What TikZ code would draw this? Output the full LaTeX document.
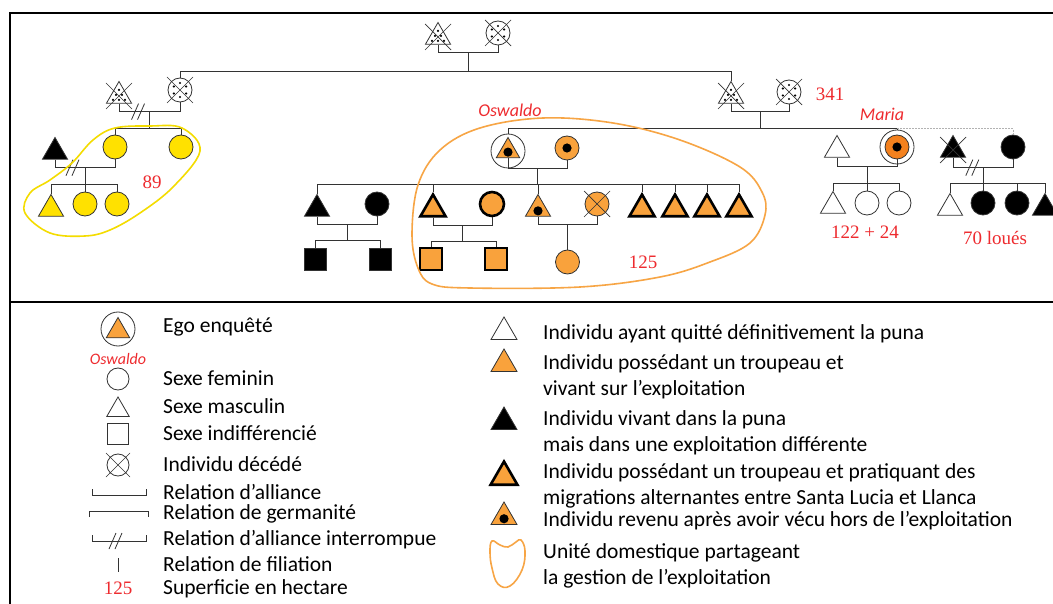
\documentclass[tikz,border=0pt]{standalone}
\usepackage{fontspec}
\setmainfont{Carlito}
\newfontfamily\numfont{Liberation Serif}
\usetikzlibrary{positioning,calc,shapes.geometric}
\definecolor{pdLine}  {HTML}{333333}
\definecolor{pdYellow}{HTML}{FFE100}
\definecolor{pdOrange}{HTML}{F9A23C}
\definecolor{pdMaria} {HTML}{F3811E}
\definecolor{pdRed}   {HTML}{EE2B2F}
\definecolor{pdHullY} {HTML}{F4DC00}
\definecolor{pdHullO} {HTML}{F7A545}
\newcommand\cutmark[1]{%
  \draw[draw=pdLine,line width=0.8pt] ([shift={(-7,8)}]#1) -- ([shift={(0,-8)}]#1)
                                      ([shift={(-1,8)}]#1) -- ([shift={(6,-8)}]#1);}

\begin{document}
\begin{tikzpicture}[x=1pt,y=-1pt,
      rel/.style={draw=pdLine,line width=0.9pt},
      ind/.style={inner sep=0pt,draw=pdLine,line width=0.8pt,fill=white},
      tri/.style={ind,regular polygon,regular polygon sides=3,minimum size=29pt},
      fem/.style={ind,circle,minimum size=24pt},
      sqr/.style={ind,rectangle,minimum size=22pt},
      heavy/.style={draw=black,line width=2.6pt},
      ego/.style={circle,draw=pdLine,line width=0.8pt,minimum size=34pt,inner sep=0pt},
      home/.style={path picture={\fill[black] ([yshift=#1]path picture bounding box.center) circle (4.6pt);}},
      home/.default=0pt,
      grainC/.style={path picture={
          \foreach \a in {30,90,...,330}
            \fill[black] ([shift={(\a:7pt)}]path picture bounding box.center) circle (1.2pt);}},
      grainT/.style={path picture={
          \foreach \p in {{0pt,2.5pt},{-3pt,-2.5pt},{3pt,-2.5pt},{-6pt,-7.5pt},{0pt,-7.5pt},{6pt,-7.5pt}}
            \fill[black] ([shift={(\p)}]path picture bounding box.center) circle (1.2pt);}},
      hectare/.style={text=pdRed,inner sep=0pt,font=\numfont\fontsize{19}{19}\selectfont},
      who/.style={text=pdRed,inner sep=0pt,font=\itshape\fontsize{18}{18}\selectfont},
      keytext/.style={anchor=base west,align=left,inner sep=0pt,
                      font=\fontsize{21.5}{26}\selectfont}]
  \useasboundingbox (0,0) rectangle (1053,604);
  \fill[white] (0,0) rectangle (1053,604);

  % frame and divider
  \draw[line width=1.6pt] (10,620) -- (10,13) -- (1070,13);
  \draw[line width=1.6pt] (10,302) -- (1070,302);

  % generation 1
  \node[tri,grainT] (gA) at (438,37) {};
  \node[fem,grainC] (gB) at (498,33) {};
  \draw[rel] (gA.south) -- ++(0,8) coordinate (gbar) -| (gB.south);
  \draw[rel] ($(gbar)!.5!(gbar -| gB)$) -- ++(0,19) coordinate (gsib);

  % generation 2
  \node[tri,grainT] (lA) at (119,96) {};
  \node[fem,grainC] (lB) at (180,90) {};
  \node[tri,grainT] (rA) at (731,96) {};
  \node[fem,grainC] (rB) at (789,92) {};
  \draw[rel] (lB.north) |- (gsib) -| (rA.north);
  \draw[rel] (lA.south) -- ++(0,8) coordinate (lbar) -| (lB.south);
  \draw[rel] ($(lbar)!.5!(lbar -| lB)$) -- ++(0,17) coordinate (lsib);
  \coordinate (lcut) at ($(lbar)!.32!(lbar -| lB)$);
  \cutmark{lcut}
  \draw[rel] (rA.south) -- ++(0,8) coordinate (rbar) -| (rB.south);
  \draw[rel] ($(rbar)!.5!(rbar -| rB)$) -- ++(0,17) coordinate (rsib);

  % left branch (yellow)
  \node[fem,fill=pdYellow] (yA) at (115,147) {};
  \node[fem,fill=pdYellow] (yB) at (181,147) {};
  \draw[rel] (yA.north) |- (lsib) -| (yB.north);
  \node[tri,fill=black] (bA) at (55,152) {};
  \draw[rel] (bA.south) -- ++(0,8) coordinate (ybar) -| (yA.south);
  \draw[rel] ($(ybar)!.5!(ybar -| yA)$) -- ++(0,17) coordinate (ysib);
  \coordinate (ycut) at ($(ybar)!.3!(ybar -| yA)$);
  \cutmark{ycut}
  \node[tri,fill=pdYellow] (yC) at (51,209) {};
  \node[fem,fill=pdYellow] (yD) at (85,204) {};
  \node[fem,fill=pdYellow] (yE) at (117,204) {};
  \draw[rel] (yC.north) |- (ysib) -| (yE.north);
  \draw[rel] (yD.north) -- (yD.north |- ysib);

  % Oswaldo and Maria
  \node[ego] (egoO) at (508,151) {};
  \node[tri,fill=pdOrange,minimum size=27pt,home=-4.5pt] (egoT) at (508,151) {};
  \node[ego] (mariaO) at (897,147) {};
  \node[fem,fill=pdMaria,home] (mariaI) at (897,147) {};
  \node[fem,fill=black] (fB) at (1013,147) {};
  \draw[rel] (egoO.north) |- (rsib) -| (mariaO.north);
  \draw[draw=gray!60,line width=0.7pt,dash pattern=on 2pt off 1pt] (rsib -| mariaO) -| (fB.north);

  % Oswaldo's household
  \node[fem,fill=pdOrange,home] (eW) at (567,148) {};
  \draw[rel] (eW.south) -- ++(0,8) coordinate (ebar) -| (egoT.south);
  \draw[rel] ($(ebar)!.5!(ebar -| egoT)$) -- ++(0,16) coordinate (esib);

  \node[tri,fill=black] (k1) at (317,209) {};
  \node[fem,fill=black] (k1w) at (377,204) {};
  \node[tri,fill=pdOrange,heavy] (k2) at (433,209) {};
  \node[fem,fill=pdOrange,heavy] (k2w) at (492,204) {};
  \node[tri,fill=pdOrange,home=-5.5pt] (k3) at (538,209) {};
  \node[fem,fill=pdOrange] (k3w) at (597,204) {};
  \foreach \n/\x in {k4/642,k5/675,k6/707,k7/739}
    \node[tri,fill=pdOrange,heavy] (\n) at (\x,209) {};
  \draw[rel] (k1.north) |- (esib) -| (k7.north);
  \foreach \n in {k2,k3,k4,k5,k6}
    \draw[rel] (\n.north) -- (\n.north |- esib);

  \draw[rel] (k1.south) -- ++(0,8) coordinate (b1) -| (k1w.south);
  \draw[rel] ($(b1)!.5!(b1 -| k1w)$) -- ++(0,16) coordinate (s1);
  \node[sqr,fill=black] (q1) at (315,259) {};
  \node[sqr,fill=black] (q2) at (380,259) {};
  \draw[rel] (q1.north) |- (s1) -| (q2.north);

  \draw[rel] (k2.south) -- ++(0,8) coordinate (b2) -| (k2w.south);
  \draw[rel] ($(b2)!.5!(b2 -| k2w)$) -- ++(0,16) coordinate (s2);
  \node[sqr,fill=pdOrange,heavy] (q3) at (431,259) {};
  \node[sqr,fill=pdOrange,heavy] (q4) at (496,259) {};
  \draw[rel] (q3.north) |- (s2) -| (q4.north);

  \draw[rel] (k3.south) -- ++(0,8) coordinate (b3) -| (k3w.south);
  \node[fem,fill=pdOrange] (q5) at (567.5,262) {};
  \draw[rel] ($(b3)!.5!(b3 -| k3w)$) -- (q5.north);

  % Maria's household
  \node[tri] (mH) at (837,150) {};
  \draw[rel] (mH.south) -- ++(0,9) coordinate (mbar) -| (mariaI.south);
  \draw[rel] ($(mbar)!.5!(mbar -| mariaI)$) -- ++(0,17) coordinate (msib);
  \node[tri] (m1) at (833,206) {};
  \node[fem] (m2) at (867,203) {};
  \node[fem] (m3) at (899,203) {};
  \draw[rel] (m1.north) |- (msib) -| (m3.north);
  \draw[rel] (m2.north) -- (m2.north |- msib);

  % right branch
  \node[tri,fill=black] (fA) at (953,150) {};
  \draw[rel] (fA.south) -- ++(0,10) coordinate (fbar) -| (fB.south);
  \draw[rel] ($(fbar)!.5!(fbar -| fB)$) -- ++(0,16) coordinate (fsib);
  \coordinate (fcut) at ($(fbar)!.33!(fbar -| fB)$);
  \cutmark{fcut}
  \node[tri] (f1) at (950,208) {};
  \node[fem,fill=black] (f2) at (983,203) {};
  \node[fem,fill=black] (f3) at (1017,203) {};
  \node[tri,fill=black] (f4) at (1045,208) {};
  \draw[rel] (f1.north) |- (fsib) -| (f4.north);
  \foreach \n in {f2,f3}
    \draw[rel] (\n.north) -- (\n.north |- fsib);

  % deceased
  \foreach \n in {gA,gB,lA,lB,rA,rB,k3w,fA}
    \draw[draw=pdLine,line width=0.7pt]
      ([shift={(-13,-13)}]\n.center) -- ([shift={(13,13)}]\n.center)
      ([shift={(-13,13)}]\n.center) -- ([shift={(13,-13)}]\n.center);

  % households sharing the farm
  \draw[pdHullY,line width=1.6pt] plot[smooth cycle,tension=0.6] coordinates {
    (150,126) (182,128) (200,151) (173,187) (140,213) (110,230) (85,236)
    (50,233) (25,213) (30,193) (50,180) (72,163) (93,140) (115,128)};
  \draw[pdHullO,line width=1.6pt] plot[smooth cycle,tension=0.6] coordinates {
    (543,118) (613,123) (680,140) (740,167) (762,192) (765,215) (750,243)
    (710,262) (660,277) (580,287) (470,288) (432,284) (418,268) (412,235)
    (418,185) (440,150) (480,128)};

  % names and areas
  \node[who] (nOsw) at (510,110) {Oswaldo};
  \node[who] (nMar) at (882,114) {Maria};
  \node[hectare] (ha89)  at (152,182) {89};
  \node[hectare] (ha125) at (643,262) {125};
  \node[hectare] (ha341) at (830,94)  {341};
  \node[hectare] (ha146) at (865,232) {122 + 24};
  \node[hectare] (ha70)  at (995,238) {70 loués};

  % legend, left column
  \node[ego] (lgEgo) at (118,329) {};
  \node[tri,fill=pdOrange,minimum size=27pt] (lgEgoT) at (118,331) {};
  \node[who,font=\itshape\fontsize{16}{16}\selectfont] (lgOsw) at (118,359) {Oswaldo};
  \node[fem,minimum size=22pt] (lgF) at (118,379) {};
  \node[tri,minimum size=26pt] (lgM) at (118,410) {};
  \node[sqr,minimum size=21pt] (lgS) at (118,434) {};
  \node[fem,minimum size=22pt] (lgD) at (118,465) {};
  \draw[draw=pdLine,line width=0.7pt]
    ([shift={(-12,-12)}]lgD.center) -- ([shift={(12,12)}]lgD.center)
    ([shift={(-12,12)}]lgD.center) -- ([shift={(12,-12)}]lgD.center);
  \draw[rel] (92,489) |- (146,495) -- (146,489);
  \draw[rel] (89,517) |- (148,511) -- (148,517);
  \draw[rel] (92,535) |- (146,541) -- (146,535);
  \coordinate (lgcut) at (116,541);
  \cutmark{lgcut}
  \draw[rel] (118,558) -- (118,572);
  \node[hectare] (lg125) at (118,588) {125};

  \node[keytext] (t1)  at (163,333) {Ego enquêté};
  \node[keytext] (t2)  at (163,385) {Sexe feminin};
  \node[keytext] (t3)  at (163,413) {Sexe masculin};
  \node[keytext] (t4)  at (163,440) {Sexe indifférencié};
  \node[keytext] (t5)  at (163,471) {Individu décédé};
  \node[keytext] (t6)  at (163,499) {Relation d’alliance};
  \node[keytext] (t7)  at (163,519) {Relation de germanité};
  \node[keytext] (t8)  at (163,545) {Relation d’alliance interrompue};
  \node[keytext] (t9)  at (163,571) {Relation de filiation};
  \node[keytext] (t10) at (163,594) {Superficie en hectare};

  % legend, right column (a two-line text sits on the baseline of its last line)
  \node[tri,minimum size=30pt] (lgR1) at (504,332) {};
  \node[tri,minimum size=30pt,fill=pdOrange] (lgR2) at (504,364) {};
  \node[tri,minimum size=30pt,fill=black] (lgR3) at (504,422) {};
  \node[tri,minimum size=31pt,fill=pdOrange,heavy] (lgR4) at (504,477) {};
  \node[tri,minimum size=30pt,fill=pdOrange,home=-5.5pt] (lgR5) at (504,517) {};
  \draw[pdHullO,line width=1.6pt] plot[smooth cycle,tension=0.7] coordinates {
    (492,541) (500,545) (508,547) (516,542) (521,540) (525,551) (522,570)
    (510,586) (498,584) (492,568) (490,552)};

  \node[keytext] (u1) at (543,339) {Individu ayant quitté définitivement la puna};
  \node[keytext] (u2) at (543,395) {Individu possédant un troupeau et\\vivant sur l’exploitation};
  \node[keytext] (u3) at (543,451) {Individu vivant dans la puna\\mais dans une exploitation différente};
  \node[keytext] (u4) at (543,504) {Individu possédant un troupeau et pratiquant des\\migrations alternantes entre Santa Lucia et Llanca};
  \node[keytext] (u5) at (543,526) {Individu revenu après avoir vécu hors de l’exploitation};
  \node[keytext] (u6) at (543,584) {Unité domestique partageant\\la gestion de l’exploitation};
\end{tikzpicture}
\end{document}
